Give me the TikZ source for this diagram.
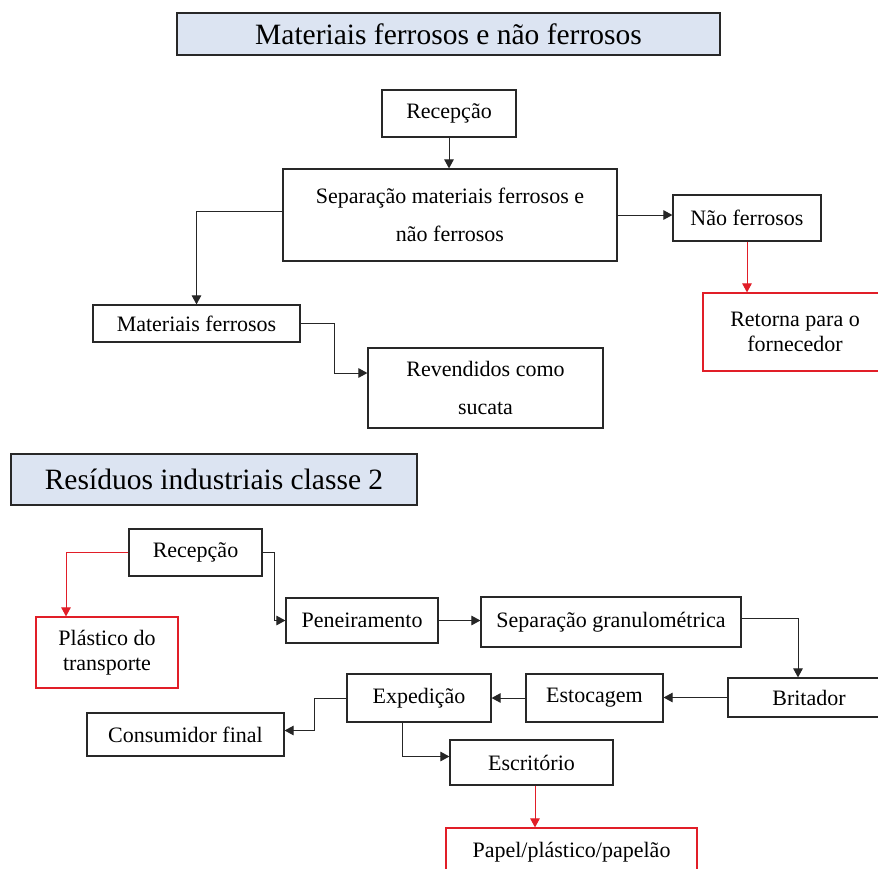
\documentclass[tikz,border=0pt]{standalone}
\usepackage{fontspec}
\setmainfont{Liberation Serif}
\usetikzlibrary{arrows.meta,calc}
\definecolor{titlefill}{RGB}{220,228,242}
\definecolor{boxline}{RGB}{40,40,40}
\definecolor{redline}{RGB}{225,30,40}
\begin{document}
\begin{tikzpicture}[x=1pt,y=-1pt,
  box/.style={draw=boxline,line width=1.2pt,inner sep=0pt,align=center,font=\fontsize{22}{25.5}\selectfont,fill=white},
  redbox/.style={box,draw=redline},
  titlebox/.style={box,fill=titlefill,font=\fontsize{29.5}{34}\selectfont},
  arr/.style={line width=1pt,draw=black!85,-{Triangle[length=9pt,width=9.5pt]}},
  redarr/.style={arr,draw=redline}]
\fill[white] (0,0) rectangle (878,868);
\useasboundingbox (0,0) rectangle (878,868);

% ---------- top section ----------
\node[titlebox,minimum width=543pt,minimum height=42pt] (t1) at (448.5,34) {Materiais ferrosos e não ferrosos};
\node[box,minimum width=134pt,minimum height=47pt] (rec1) at (449,113.5) {Recepção};
\node[box,minimum width=334pt,minimum height=92pt] (sep) at (450,215) {Separação materiais ferrosos e\\[12.5pt]não ferrosos};
\node[box,minimum width=148pt,minimum height=46pt] (non) at (747,218) {Não ferrosos};
\node[redbox,minimum width=184pt,minimum height=78pt] (ret) at (795,332) {Retorna para o\\fornecedor};
\node[box,minimum width=207pt,minimum height=37pt] (matf) at (196.5,323.5) {Materiais ferrosos};
\node[box,minimum width=235pt,minimum height=80pt] (rev) at (485.5,388) {Revendidos como\\[12.5pt]sucata};

\draw[arr] (rec1.south) -- (rec1.south |- sep.north);
\draw[arr] (sep.east) -- (sep.east -| non.west);
\draw[redarr] (non.south) -- (non.south |- ret.north);
\draw[arr] ([yshift=4pt]sep.west) -| (matf.north);
\draw[arr] (matf.east) -- ++(34,0) |- ([yshift=15pt]rev.west);

% ---------- bottom section ----------
\node[titlebox,minimum width=406pt,minimum height=51pt] (t2) at (214,479.5) {Resíduos industriais classe 2};
\node[box,minimum width=133pt,minimum height=47pt] (rec2) at (195.5,552.5) {Recepção};
\node[redbox,minimum width=142pt,minimum height=71pt] (plast) at (107,652.5) {Plástico do\\transporte};
\node[box,minimum width=152pt,minimum height=45pt] (pen) at (362,620.5) {Peneiramento};
\node[box,minimum width=260pt,minimum height=50pt] (sepg) at (611,622) {Separação granulométrica};
\node[box,minimum width=162pt,minimum height=39pt] (brit) at (809,697.5) {Britador};
\node[box,minimum width=137pt,minimum height=48pt] (esto) at (594.5,698) {Estocagem};
\node[box,minimum width=144pt,minimum height=48pt] (exp) at (419,698) {Expedição};
\node[box,minimum width=197pt,minimum height=43pt] (cons) at (185.5,734.5) {Consumidor final};
\node[box,minimum width=163pt,minimum height=45pt] (escr) at (531.5,762.5) {Escritório};
\node[redbox,minimum width=251pt,minimum height=48pt] (papel) at (571.5,852) {Papel/plástico/papelão};

\draw[redarr] (rec2.west) -| ([xshift=-41pt]plast.north);
\draw[arr] (rec2.east) -- ++(12,0) |- (pen.west);
\draw[arr] (pen.east) -- (pen.east -| sepg.west);
\draw[arr] ([yshift=4pt]sepg.east) -| ([xshift=-11pt]brit.north);
\draw[arr] (brit.west) -- (brit.west -| esto.east);
\draw[arr] (esto.west) -- (esto.west -| exp.east);
\draw[arr] (exp.west) -- ++(-32,0) |- ([yshift=4pt]cons.east);
\draw[arr] ([xshift=-17pt]exp.south) |- ([yshift=6pt]escr.west);
\draw[redarr] ([xshift=3.5pt]escr.south) -- ([xshift=3.5pt]escr.south |- papel.north);
\end{tikzpicture}
\end{document}
